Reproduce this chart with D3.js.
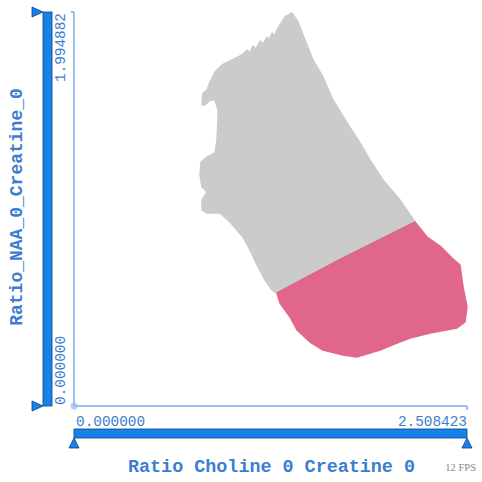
<!DOCTYPE html>
<html>
<head>
<meta charset="utf-8">
<script src="https://cdn.jsdelivr.net/npm/d3@7"></script>
<style>
  html, body { margin: 0; padding: 0; background: #fff; }
  svg { display: block; }
</style>
</head>
<body>
<svg id="chart" width="482" height="482"></svg>
<script>
// ---- data (axis units) ----
const xTitle = "Ratio Choline 0 Creatine 0";
const yTitle = "Ratio_NAA_0_Creatine_0";
const xDomain = [0, 2.508423];
const yDomain = [0, 1.994882];
const xTickValues = [0, 2.508423];
const yTickValues = [0, 1.994882];
const fpsLabel = "12 FPS";

// outline of the unselected (grey) point cloud
const greyX = [1.3914,1.4297,1.4744,1.5255,1.5893,1.6531,1.7425,1.8255,1.8893,1.9723,2.0808,2.1765,
  1.6787,1.2957,1.2638,1.2191,1.1681,1.1234,1.0787,0.9957,0.9319,0.8489,0.8170,0.8170,0.8489,0.8170,
  0.8042,0.8106,0.8489,0.9000,0.9127,0.9191,0.9191,0.9000,0.8681,0.8361,0.8170,0.8234,0.8489,0.8681,
  0.9000,0.9447,0.9830,1.0723,1.1042,1.1240,1.1425,1.1620,1.1872,1.2080,1.2319,1.2470,1.2638,1.2780,
  1.3021,1.3468];
const greyY = [1.9900,1.9443,1.8531,1.7519,1.6658,1.5493,1.4329,1.3316,1.2455,1.1443,1.0430,0.9316,
  0.7342,0.5721,0.5873,0.6380,0.7139,0.7899,0.8557,0.9316,0.9772,0.9772,0.9924,1.0430,1.0835,1.1088,
  1.1696,1.2354,1.2607,1.2810,1.3468,1.4481,1.4987,1.5493,1.5493,1.5240,1.5240,1.5848,1.6000,1.6405,
  1.6911,1.7266,1.7417,1.7772,1.8025,1.7900,1.8228,1.8080,1.8481,1.8330,1.8683,1.8530,1.8886,1.8760,
  1.9139,1.9696];

// outline of the selected (pink) point cloud
const pinkX = [2.1765,2.2531,2.3361,2.4127,2.4638,2.4829,2.5084,2.4957,2.4446,2.2723,2.1446,2.0616,
  1.9531,1.8063,1.7170,1.5893,1.5063,1.4234,1.3787,1.3149,1.2957,1.6787];
const pinkY = [0.9316,0.8557,0.8101,0.7494,0.7139,0.6025,0.5013,0.4253,0.3949,0.3696,0.3443,0.3190,
  0.2835,0.2481,0.2582,0.2835,0.3240,0.3848,0.4506,0.5215,0.5721,0.7342];

// ---- drawing ----
const svg = d3.select("#chart");
const x = d3.scaleLinear().domain(xDomain).range([74, 467]);
const y = d3.scaleLinear().domain(yDomain).range([406, 12]);
const fmt = d3.format(".6f");
const textBlue = "#3b7ed0";
const barBlue = "#1683ea";
const barStroke = "#0d3f7e";
const mono = "'Liberation Mono', 'Courier New', monospace";

const line = d3.line().x(d => x(d[0])).y(d => y(d[1])).curve(d3.curveLinearClosed);
const greyPts = d3.zip(greyX, greyY);
const pinkPts = d3.zip(pinkX, pinkY);

svg.append("path").attr("d", line(greyPts))
  .attr("fill", "#cbcbcb").attr("stroke", "#cbcbcb").attr("stroke-width", 1.5)
  .attr("stroke-linejoin", "round");
svg.append("path").attr("d", line(pinkPts))
  .attr("fill", "#e0668a").attr("stroke", "#e0668a").attr("stroke-width", 1.5)
  .attr("stroke-linejoin", "round");

// frame lines
const x0 = x(xDomain[0]), x1 = x(xDomain[1]), y0 = y(yDomain[0]), y1 = y(yDomain[1]);
svg.append("path")
  .attr("d", `M${x0 - 3},${y1}H${x0}V${y0}H${x1}V${y0 + 4}`)
  .attr("fill", "none").attr("stroke", "#3a7fd6").attr("stroke-width", 1);

// origin marker
svg.append("circle").attr("cx", x0).attr("cy", y0).attr("r", 3.5)
  .attr("fill", "#9ec2ee").attr("opacity", 0.8);

// y axis bar
svg.append("rect").attr("x", 43).attr("y", y1).attr("width", 9).attr("height", y0 - y1)
  .attr("fill", barBlue).attr("stroke", barStroke).attr("stroke-width", 0.8);
[y1, y0].forEach(v => {
  svg.append("path").attr("d", `M${32},${v - 5}L${43},${v}L${32},${v + 5}Z`)
    .attr("fill", barBlue).attr("stroke", barStroke).attr("stroke-width", 0.8);
});

// x axis bar
svg.append("rect").attr("x", x0).attr("y", 429).attr("width", x1 - x0).attr("height", 9)
  .attr("fill", barBlue).attr("stroke", barStroke).attr("stroke-width", 0.8);
[x0, x1].forEach(v => {
  svg.append("path").attr("d", `M${v - 5},${448}L${v},${438}L${v + 5},${448}Z`)
    .attr("fill", barBlue).attr("stroke", barStroke).attr("stroke-width", 0.8);
});

// x tick labels
svg.selectAll("text.xt").data(xTickValues).enter().append("text")
  .attr("class", "xt")
  .attr("x", (d, i) => i === 0 ? x(d) + 2 : x(d))
  .attr("y", 426)
  .attr("text-anchor", (d, i) => i === 0 ? "start" : "end")
  .attr("font-family", mono).attr("font-size", 14.4).attr("fill", textBlue)
  .text(d => fmt(d));

// y tick labels (rotated)
svg.selectAll("text.yt").data(yTickValues).enter().append("text")
  .attr("class", "yt")
  .attr("transform", (d, i) => `translate(65,${i === 0 ? y(d) - 1 : y(d) + 1}) rotate(-90)`)
  .attr("text-anchor", (d, i) => i === 0 ? "start" : "end")
  .attr("font-family", mono).attr("font-size", 14.4).attr("fill", textBlue)
  .text(d => fmt(d));

// axis titles
svg.append("text").attr("x", 271.5).attr("y", 472).attr("text-anchor", "middle")
  .attr("font-family", mono).attr("font-size", 18.4).attr("font-weight", "bold")
  .attr("fill", textBlue).text(xTitle);
svg.append("text").attr("transform", "translate(22,207) rotate(-90)").attr("text-anchor", "middle")
  .attr("font-family", mono).attr("font-size", 18).attr("font-weight", "bold")
  .attr("fill", textBlue).text(yTitle);

// fps label
svg.append("text").attr("x", 476).attr("y", 471).attr("text-anchor", "end")
  .attr("font-family", "'Liberation Serif', 'Times New Roman', serif").attr("font-size", 10.5)
  .attr("fill", "#888").text(fpsLabel);
</script>
</body>
</html>
